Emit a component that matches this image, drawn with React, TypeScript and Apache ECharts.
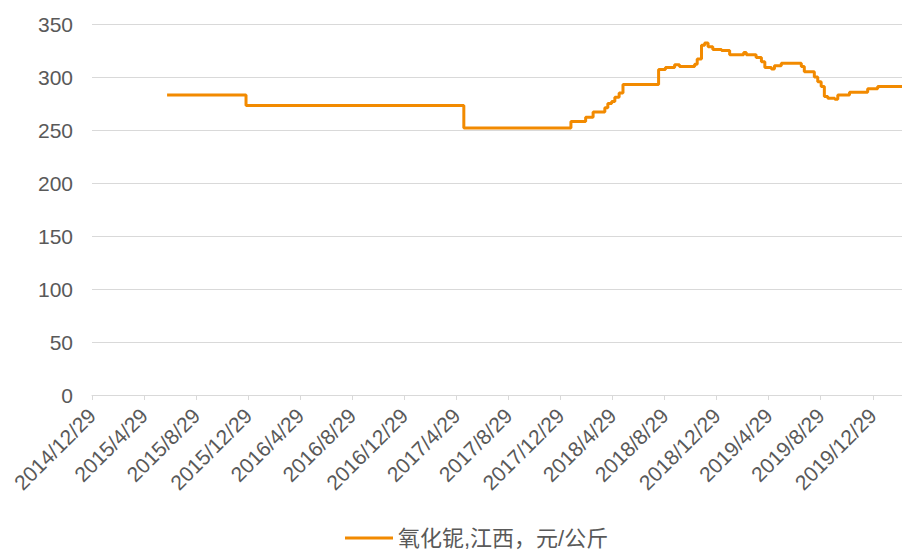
import React, { useEffect, useRef } from "react";
import * as echarts from "echarts";

// Dates at which the price changed, and the new price (元/公斤)
const changeDates: string[] = [
  "2015-06-22", "2015-12-24", "2017-05-16", "2018-01-23", "2018-02-27", "2018-03-14",
  "2018-04-11", "2018-04-18", "2018-04-27", "2018-05-04", "2018-05-14", "2018-05-23",
  "2018-08-15", "2018-08-31", "2018-09-22", "2018-10-03", "2018-11-08", "2018-11-14",
  "2018-11-24", "2018-12-01", "2018-12-09", "2018-12-20", "2019-01-10", "2019-01-29",
  "2019-03-01", "2019-03-07", "2019-03-30", "2019-04-12", "2019-04-20", "2019-05-05",
  "2019-05-12", "2019-05-28", "2019-07-14", "2019-07-21", "2019-08-14", "2019-08-22",
  "2019-08-30", "2019-09-07", "2019-09-15", "2019-10-01", "2019-10-08", "2019-11-05",
  "2019-12-17", "2020-01-10", "2020-03-06",
];
const prices: number[] = [
  283, 273, 252, 258, 262, 267,
  271, 275, 277, 281, 285, 293,
  307, 309, 311.5, 310, 312, 317,
  330, 332, 328.5, 326, 325, 321,
  323, 321, 318.5, 314.5, 309, 307.5,
  310.5, 313, 310, 305, 300, 295.5,
  291, 281.5, 280, 279, 283, 285.5,
  289, 291, 291,
];

const seriesName = "氧化铌,江西，元/公斤";
const axisStartDate = "2014-12-29";
const axisEndDate = "2020-03-06";
const tickMonthSteps: number[] = [0, 4, 8, 12, 16, 20, 24, 28, 32, 36, 40, 44, 48, 52, 56, 60];
const yTicks: number[] = [0, 50, 100, 150, 200, 250, 300, 350];

function monthsFrom(s: string): number {
  const [y, m, d] = s.split("-").map(Number);
  const [y0, m0, d0] = axisStartDate.split("-").map(Number);
  return 12 * (y - y0) + (m - m0) + (d - d0) / 30.44;
}

function tickLabel(v: number): string {
  const [y0, m0, d0] = axisStartDate.split("-").map(Number);
  const total = y0 * 12 + (m0 - 1) + Math.round(v);
  const y = Math.floor(total / 12);
  const m = (total % 12) + 1;
  return `${y}/${m}/${d0}`;
}

const FONT = "'Liberation Sans', Arial, 'Noto Sans CJK SC', sans-serif";
const GRAY = "#595959";

export default function App() {
  const ref = useRef<HTMLDivElement>(null);
  useEffect(() => {
    document.body.style.margin = "0";
    if (!ref.current) return;
    const chart = echarts.init(ref.current, undefined, { renderer: "svg" });
    const data = changeDates.map((d, i) => [monthsFrom(d), prices[i]]);
    chart.setOption({
      animation: false,
      grid: { left: 92, right: 0, top: 24, bottom: 157, containLabel: false },
      legend: {
        data: [{ name: seriesName, icon: "rect" }],
        left: 340,
        top: 522,
        itemWidth: 48,
        itemHeight: 3,
        textStyle: { color: GRAY, fontSize: 22, fontFamily: FONT },
      },
      xAxis: {
        type: "value",
        min: 0,
        max: monthsFrom(axisEndDate),
        interval: 4,
        axisLine: { show: true, lineStyle: { color: "#d9d9d9", width: 1 } },
        axisTick: {
          show: true,
          length: 5,
          customValues: tickMonthSteps,
          lineStyle: { color: "#d9d9d9" },
        },
        splitLine: { show: false },
        axisLabel: {
          customValues: tickMonthSteps,
          rotate: 45,
          margin: 17,
          color: GRAY,
          fontSize: 21,
          fontFamily: FONT,
          formatter: (v: number) => tickLabel(v),
        },
      },
      yAxis: {
        type: "value",
        min: yTicks[0],
        max: yTicks[yTicks.length - 1],
        interval: 50,
        axisLine: { show: false },
        axisTick: { show: false },
        splitLine: { lineStyle: { color: "#d9d9d9", width: 1 } },
        axisLabel: { color: GRAY, fontSize: 21, fontFamily: FONT, margin: 19 },
      },
      series: [
        {
          name: seriesName,
          type: "line",
          step: "end",
          showSymbol: false,
          symbol: "none",
          data,
          lineStyle: { color: "#F28A00", width: 3 },
          itemStyle: { color: "#F28A00" },
        },
      ],
    });
    return () => chart.dispose();
  }, []);
  return <div ref={ref} style={{ width: 902, height: 552 }} />;
}
